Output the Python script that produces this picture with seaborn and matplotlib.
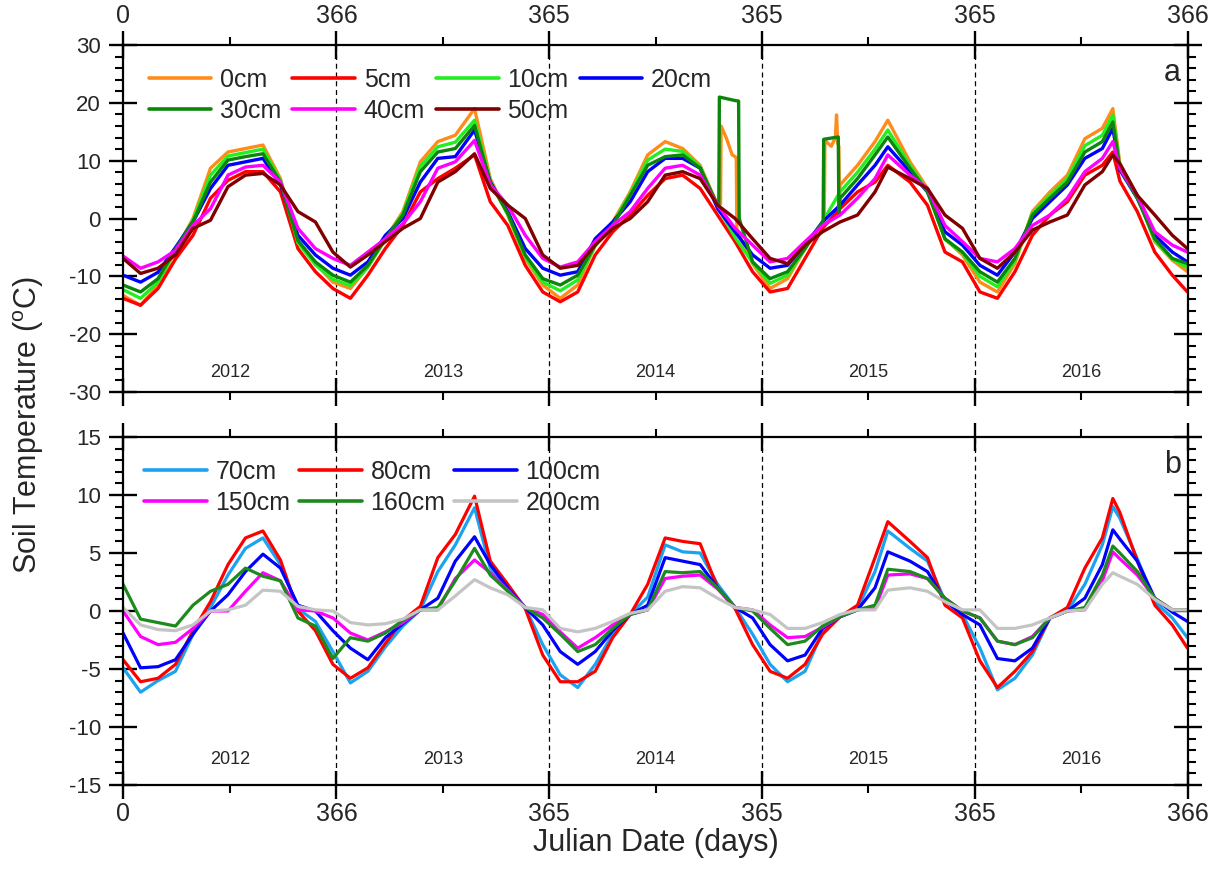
import numpy as np
import pandas as pd
import seaborn as sns
import matplotlib.pyplot as plt
from matplotlib.lines import Line2D
from matplotlib.ticker import MultipleLocator

# years shown on the x axis
year_names = ["2012", "2013", "2014", "2015", "2016"]
year_lengths = [366, 365, 365, 365, 366]

# sampling days (cumulative julian day), shared by both panels
days = [0, 30, 60, 90, 120, 150, 180, 210, 240, 270, 300, 330, 360, 390, 420, 450,
        480, 510, 540, 570, 603, 630, 660, 690, 720, 750, 780, 810, 840, 870, 900,
        930, 960, 990, 1020, 1050, 1080, 1110, 1140, 1170, 1200, 1230, 1260, 1290,
        1312, 1350, 1380, 1410, 1440, 1470, 1500, 1530, 1560, 1590, 1620, 1650,
        1680, 1698, 1710, 1740, 1770, 1800, 1826]

# ---- panel a : shallow layers ----
depth_a = ["0cm", "5cm", "10cm", "20cm", "30cm", "40cm", "50cm"]
colors_a = ["#FF8C1A", "#FF0000", "#22EE22", "#0000FF", "#0B860B", "#FF00FF", "#800000"]

t_0cm = [-13.3, -15.0, -11.5, -5.5, 0.0, 8.7, 11.5, 12.1, 12.7, 6.9, -3.8, -7.8, -11.0,
         -12.1, -8.4, -3.5, 1.2, 9.8, 13.3, 14.4, 19.0, 6.9, 0.6, -6.9, -11.5, -13.8,
         -11.5, -4.6, -0.6, 4.6, 11.0, 13.3, 12.1, 9.2, 2.3, 10.7, -7.8, -12.1, -10.4,
         -5.2, -0.6, 5.8, 9.2, 13.3, 17.0, 9.8, 5.2, -3.5, -6.3, -11.0, -12.7, -7.8,
         1.2, 4.6, 7.5, 13.8, 15.6, 19.0, 9.5, 4.0, -4.0, -7.2, -9.2]
t_5cm = [-13.8, -15.0, -12.1, -7.0, -2.9, 3.5, 6.6, 8.1, 8.1, 4.6, -5.2, -9.2, -12.1,
         -13.8, -9.8, -5.2, -1.2, 4.6, 6.9, 8.7, 11.0, 2.9, -1.2, -8.1, -12.7, -14.4,
         -12.7, -6.3, -2.3, 0.6, 4.0, 6.9, 7.5, 5.2, 0.6, -4.0, -9.2, -12.7, -12.1,
         -6.9, -1.7, 1.7, 4.6, 6.3, 9.2, 6.3, 2.3, -5.8, -7.5, -12.7, -13.8, -9.2,
         -2.9, 0.6, 2.9, 7.5, 9.2, 11.5, 6.5, 1.2, -5.8, -9.8, -12.7]
t_10cm = [-12.3, -13.8, -11.0, -5.4, -0.3, 7.5, 10.8, 11.4, 12.0, 6.6, -4.2, -8.0, -10.5,
          -11.6, -8.4, -3.6, 0.9, 9.0, 12.4, 13.2, 17.0, 6.5, 0.7, -6.6, -11.0, -12.5,
          -10.6, -4.7, -0.9, 4.3, 10.1, 12.0, 11.6, 9.0, 2.0, -3.3, -7.6, -11.2, -9.8,
          -5.2, -0.6, 4.6, 8.0, 12.0, 15.3, 9.2, 4.9, -3.6, -6.0, -10.0, -11.8, -7.3,
          0.9, 4.0, 6.9, 12.6, 14.4, 17.9, 9.0, 3.8, -3.8, -7.0, -8.5]
t_20cm = [-9.8, -11.0, -9.3, -5.0, -0.6, 5.2, 9.2, 9.8, 10.4, 5.8, -2.9, -6.3, -8.6,
          -9.8, -7.5, -2.9, 0.0, 6.3, 10.4, 10.7, 15.3, 6.3, 1.2, -5.2, -8.6, -9.8,
          -9.2, -3.5, -0.6, 2.9, 8.1, 10.4, 10.4, 8.7, 1.7, -2.3, -6.3, -8.6, -8.1,
          -4.6, -0.6, 2.3, 5.8, 9.2, 12.4, 8.1, 4.6, -2.3, -4.6, -8.1, -9.8, -5.8,
          0.0, 2.9, 5.8, 10.4, 12.1, 15.6, 8.4, 3.5, -2.9, -5.8, -7.5]
t_30cm = [-11.5, -12.7, -10.4, -5.3, -0.6, 6.3, 10.1, 10.7, 11.2, 6.3, -3.8, -7.5, -9.8,
          -11.0, -8.1, -3.5, 0.6, 8.1, 11.5, 12.1, 16.1, 6.1, 0.9, -6.3, -10.4, -11.5,
          -9.8, -4.6, -1.2, 4.0, 9.2, 10.7, 11.0, 8.7, 2.3, 20.4, -7.5, -10.4, -9.2,
          -5.2, -0.6, 3.5, 6.9, 11.0, 14.1, 8.7, 4.6, -3.5, -5.8, -9.2, -11.0, -6.9,
          0.6, 3.5, 6.3, 11.5, 13.3, 16.7, 8.7, 3.5, -3.5, -6.9, -7.8]
t_40cm = [-6.5, -8.6, -7.5, -5.5, -1.2, 1.7, 7.5, 8.9, 9.2, 6.3, -1.7, -5.2, -6.9,
          -8.1, -5.8, -3.5, -0.9, 2.9, 8.7, 9.8, 13.5, 5.8, 2.3, -2.9, -6.9, -8.4,
          -7.5, -4.0, -1.2, 1.2, 5.2, 8.7, 9.2, 7.5, 2.3, -1.7, -4.6, -7.5, -6.9,
          -4.0, -1.2, 0.6, 3.5, 6.9, 11.0, 7.5, 5.2, -1.2, -4.0, -6.9, -7.5, -5.2,
          -1.2, 0.6, 3.5, 8.1, 10.4, 13.3, 8.7, 4.0, -2.3, -4.6, -5.8]
t_50cm = [-6.9, -9.5, -8.6, -6.3, -1.7, -0.3, 5.5, 7.5, 7.8, 5.8, 1.2, -0.6, -5.8,
          -8.4, -6.3, -4.0, -1.7, 0.0, 6.3, 8.1, 11.2, 5.2, 2.3, 0.0, -6.3, -8.6,
          -8.1, -4.6, -1.7, 0.0, 2.9, 7.5, 8.1, 6.9, 2.3, 0.0, -3.5, -6.9, -7.8,
          -4.6, -2.3, -0.6, 0.6, 4.6, 8.9, 6.9, 5.2, 0.6, -1.7, -6.9, -8.6, -5.8,
          -2.0, -0.6, 0.6, 5.8, 8.1, 11.0, 9.5, 4.0, 0.6, -2.9, -5.2]

# sensor jumps in 2014 and 2015 (30cm box shapes, 0cm spikes)
jump_days_30cm = [1022, 1023, 1056, 1057, 1201, 1202, 1227, 1228]
jump_30cm = [2.0, 21.0, 20.3, 0.0, -0.3, 13.7, 14.1, 0.6]
jump_days_0cm = [1025, 1026, 1035, 1045, 1052, 1053,
                 1203, 1204, 1215, 1222, 1224, 1226, 1228, 1229]
jump_0cm = [2.5, 16.0, 13.9, 11.0, 10.5, -2.0,
            -0.3, 13.5, 12.5, 14.0, 17.9, 13.0, 12.5, 2.0]

# ---- panel b : deep layers ----
depth_b = ["70cm", "80cm", "100cm", "150cm", "160cm", "200cm"]
colors_b = ["#1AA3F0", "#FF0000", "#0000FF", "#FF00FF", "#1E8A1E", "#C4C4C4"]

t_70cm = [-4.9, -7.0, -6.0, -5.2, -2.0, 0.3, 3.1, 5.4, 6.3, 4.0, 0.2, -0.9, -3.5,
          -6.2, -5.2, -3.1, -1.3, 0.1, 3.4, 5.7, 8.9, 3.7, 2.0, 0.3, -2.9, -5.5,
          -6.6, -4.6, -2.0, -0.3, 1.2, 5.7, 5.1, 5.0, 2.3, 0.3, -2.0, -4.6, -6.1,
          -5.2, -1.8, -0.5, 0.2, 3.4, 6.9, 5.4, 4.3, 0.9, -0.3, -3.2, -6.8, -5.8,
          -3.8, -0.6, 0.0, 2.3, 5.7, 9.0, 8.0, 4.5, 0.8, -0.6, -2.3]
t_80cm = [-4.2, -6.1, -5.8, -4.6, -1.7, 0.8, 4.0, 6.3, 6.9, 4.4, 0.0, -1.7, -4.6,
          -5.8, -4.9, -2.8, -0.8, 0.4, 4.6, 6.6, 9.9, 4.3, 2.3, 0.2, -3.8, -6.1,
          -6.1, -5.2, -2.3, -0.3, 2.3, 6.3, 6.0, 5.8, 2.0, 0.2, -2.9, -5.2, -5.8,
          -4.6, -2.0, -0.5, 0.5, 4.6, 7.7, 6.0, 4.6, 0.5, -0.6, -4.3, -6.6, -5.2,
          -3.5, -0.6, 0.3, 3.7, 6.3, 9.7, 8.5, 4.3, 0.5, -1.2, -3.2]
t_100cm = [-1.9, -4.9, -4.8, -4.2, -2.0, 0.0, 1.4, 3.4, 4.9, 3.7, 0.5, 0.0, -1.7,
           -3.2, -4.2, -2.3, -1.1, 0.1, 1.1, 4.3, 6.4, 4.0, 2.0, 0.3, -1.2, -3.5,
           -4.6, -3.5, -1.7, -0.3, 0.5, 4.6, 4.3, 4.0, 2.0, 0.3, -0.6, -2.9, -4.3,
           -3.8, -1.5, -0.5, 0.1, 2.0, 5.1, 4.3, 3.4, 0.9, -0.3, -1.2, -4.1, -4.3,
           -3.2, -0.6, 0.0, 1.1, 4.0, 7.0, 6.2, 4.3, 1.1, -0.1, -0.9]
t_150cm = [0.0, -2.2, -2.9, -2.7, -1.5, 0.0, 0.0, 1.7, 3.3, 2.6, 0.1, 0.0, -0.6,
           -1.9, -2.5, -1.8, -1.0, 0.1, 0.1, 2.8, 4.4, 3.3, 1.8, 0.3, -0.3, -1.8,
           -3.2, -2.3, -1.2, -0.3, 0.1, 2.8, 3.0, 3.1, 1.9, 0.3, 0.1, -1.2, -2.3,
           -2.2, -1.4, -0.5, 0.1, 0.2, 3.1, 3.2, 2.8, 1.1, 0.0, -0.6, -2.6, -2.9,
           -2.2, -0.6, 0.0, 0.1, 2.6, 5.1, 4.5, 3.1, 1.1, 0.1, 0.1]
t_160cm = [2.3, -0.7, -1.0, -1.3, 0.5, 1.7, 2.3, 3.7, 3.0, 2.6, -0.6, -1.3, -4.1,
           -2.3, -2.6, -1.9, -0.8, 0.1, 0.3, 2.6, 5.4, 3.1, 1.7, 0.3, -0.6, -2.0,
           -3.5, -2.9, -1.5, -0.3, 0.1, 3.4, 3.3, 3.4, 2.0, 0.3, 0.0, -1.5, -2.9,
           -2.6, -1.3, -0.5, 0.1, 0.5, 3.6, 3.4, 2.8, 1.1, 0.0, -0.6, -2.6, -2.9,
           -2.3, -0.6, 0.0, 0.3, 3.1, 5.6, 5.0, 3.4, 1.1, 0.1, 0.1]
t_200cm = [0.3, -1.2, -1.6, -1.7, -1.2, 0.0, 0.1, 0.5, 1.8, 1.7, 0.4, 0.1, 0.0,
           -1.0, -1.2, -1.1, -0.7, 0.1, 0.1, 1.3, 2.7, 2.0, 1.4, 0.3, 0.1, -1.5,
           -1.8, -1.5, -0.9, -0.2, 0.1, 1.7, 2.1, 2.0, 1.1, 0.3, 0.1, -0.3, -1.5,
           -1.5, -1.0, -0.3, 0.1, 0.1, 1.8, 2.0, 1.7, 0.8, 0.1, 0.1, -1.5, -1.5,
           -1.2, -0.6, 0.0, 0.1, 2.3, 3.3, 3.0, 2.3, 1.0, 0.1, 0.1]


def long_frame(names, series, extra):
    parts = []
    for name, vals in zip(names, series):
        d = list(days)
        v = list(vals)
        if name in extra:
            d += extra[name][0]
            v += extra[name][1]
        order = np.argsort(d, kind="stable")
        parts.append(pd.DataFrame({"day": np.array(d)[order],
                                   "temp": np.array(v)[order],
                                   "depth": name}))
    return pd.concat(parts, ignore_index=True)


df_a = long_frame(depth_a, [t_0cm, t_5cm, t_10cm, t_20cm, t_30cm, t_40cm, t_50cm],
                  {"30cm": (jump_days_30cm, jump_30cm), "0cm": (jump_days_0cm, jump_0cm)})
df_b = long_frame(depth_b, [t_70cm, t_80cm, t_100cm, t_150cm, t_160cm, t_200cm], {})

sns.set_style("ticks")
plt.rcParams["font.family"] = ["Liberation Sans", "DejaVu Sans"]
plt.rcParams["mathtext.fontset"] = "custom"
plt.rcParams["mathtext.rm"] = "Liberation Sans"
plt.rcParams["axes.linewidth"] = 1.5
plt.rcParams["axes.unicode_minus"] = False

fig = plt.figure(figsize=(12.22, 8.69), dpi=100)
ax_a = fig.add_axes([0.1007, 0.5489, 0.8715, 0.3993])
ax_b = fig.add_axes([0.1007, 0.0967, 0.8715, 0.4004])

bounds = np.cumsum([0] + year_lengths)
mids = (bounds[:-1] + bounds[1:]) / 2
tick_labels = ["0"] + [str(n) for n in year_lengths]

sns.lineplot(data=df_a, x="day", y="temp", hue="depth", hue_order=depth_a,
             palette=dict(zip(depth_a, colors_a)), linewidth=2.4, errorbar=None,
             legend=False, ax=ax_a)
sns.lineplot(data=df_b, x="day", y="temp", hue="depth", hue_order=depth_b,
             palette=dict(zip(depth_b, colors_b)), linewidth=2.3, errorbar=None,
             legend=False, ax=ax_b)


def style_axis(ax, ylim, major, minor, labels_on_top, year_y, letter, letter_y):
    ax.set_xlim(0, bounds[-1])
    ax.set_ylim(*ylim)
    ax.set_xticks(bounds)
    ax.set_xticklabels(tick_labels)
    ax.set_xticks(mids, minor=True)
    ax.yaxis.set_major_locator(MultipleLocator(major))
    ax.yaxis.set_minor_locator(MultipleLocator(minor))
    for s in ax.spines.values():
        s.set_visible(True)
        s.set_linewidth(1.6)
        s.set_color("black")
    ax.tick_params(which="major", direction="inout", length=20, width=1.7, color="black")
    ax.tick_params(which="minor", direction="out", length=5.5, width=1.5, color="black")
    ax.tick_params(axis="x", which="both", top=True, bottom=True,
                   labeltop=labels_on_top, labelbottom=not labels_on_top,
                   labelsize=18, pad=2)
    ax.tick_params(axis="y", which="both", left=True, right=True,
                   labelleft=True, labelright=False, labelsize=16, pad=6)
    ax.set_xlabel("")
    ax.set_ylabel("")
    for b in bounds[1:-1]:
        ax.axvline(b, color="black", lw=0.9, ls=(0, (4, 3)), zorder=0.8)
    for m, name in zip(mids, year_names):
        ax.text(m, year_y, name, transform=ax.get_xaxis_transform(),
                ha="center", va="center", fontsize=13)
    ax.text(0.985, letter_y, letter, transform=ax.transAxes,
            ha="center", va="center", fontsize=22)


style_axis(ax_a, (-30, 30), 10, 2, True, 0.055, "a", 0.92)
style_axis(ax_b, (-15, 15), 5, 1, False, 0.072, "b", 0.92)


def add_legend(ax, names, colors, order, ncol, x0, y0, colspace):
    handles = [Line2D([], [], color=colors[i], lw=2.6) for i in order]
    labels = [names[i] for i in order]
    ax.legend(handles, labels, ncol=ncol, loc="upper left", bbox_to_anchor=(x0, y0),
              frameon=False, fontsize=18, handlelength=2.5, handletextpad=0.35,
              columnspacing=colspace, labelspacing=0.3, borderpad=0, borderaxespad=0)


add_legend(ax_a, depth_a, colors_a, [0, 4, 1, 5, 2, 6, 3], 4, 0.024, 0.935, 0.45)
add_legend(ax_b, depth_b, colors_b, [0, 3, 1, 4, 2, 5], 3, 0.020, 0.935, 0.35)

ax_b.set_xlabel("Julian Date (days)", fontsize=22, labelpad=2)
fig.text(0.023, 0.511, r"Soil Temperature ($^{\rm o}$C)", rotation=90,
         ha="center", va="center", fontsize=22)

fig.savefig("out.png", dpi=100)
plt.close(fig)
